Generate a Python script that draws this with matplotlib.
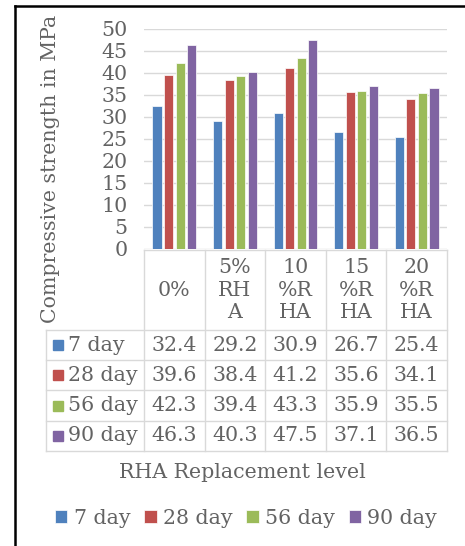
import matplotlib.pyplot as plt
import numpy as np

plt.rcParams['font.family'] = ['DejaVu Serif']

# Données
categories = ["0%", "5%\nRH\nA", "10\n%R\nHA", "15\n%R\nHA", "20\n%R\nHA"]
series = ["7 day", "28 day", "56 day", "90 day"]
day7 = [32.4, 29.2, 30.9, 26.7, 25.4]
day28 = [39.6, 38.4, 41.2, 35.6, 34.1]
day56 = [42.3, 39.4, 43.3, 35.9, 35.5]
day90 = [46.3, 40.3, 47.5, 37.1, 36.5]
yticks = [0, 5, 10, 15, 20, 25, 30, 35, 40, 45, 50]

values = [day7, day28, day56, day90]
colors = ['#4F81BD', '#C0504D', '#9BBB59', '#8064A2']
txt = '#636363'
grid = '#D9D9D9'
fs = 14.8

W, H = 465, 546
fig = plt.figure(figsize=(W / 100, H / 100), dpi=100)

# zone du graphique (en pixels)
x0, x1 = 144, 447
ytop, ybot = 29, 249
ax = fig.add_axes([x0 / W, 1 - ybot / H, (x1 - x0) / W, (ybot - ytop) / H])
n = len(categories)
x = np.arange(n)
pitch, width = 0.19, 0.15
bars = []
for j, (vals, c) in enumerate(zip(values, colors)):
    b = ax.bar(x + (j - 1.5) * pitch, vals, width, color=c, edgecolor='white',
               linewidth=0.5, zorder=3, label=series[j])
    bars.append(b)
ax.set_xlim(-0.5, n - 0.5)
ax.set_ylim(0, 50)
ax.set_yticks(yticks)
ax.set_yticklabels([str(t) for t in yticks], fontsize=fs, color=txt)
ax.tick_params(axis='y', length=0, pad=12)
ax.set_xticks([])
ax.yaxis.grid(True, color=grid, linewidth=1.0, zorder=0)
for s in ax.spines.values():
    s.set_visible(False)
ax.patch.set_alpha(0)

# calque pour le tableau
ov = fig.add_axes([0, 0, 1, 1], zorder=5)
ov.set_xlim(0, W)
ov.set_ylim(H, 0)
ov.axis('off')
ov.patch.set_alpha(0)

colx = np.linspace(x0, x1, n + 1)
lab_x = 46
hdr_top, hdr_bot = 250, 330
row_h = 30.2
rows_y = [hdr_bot + i * row_h for i in range(len(series) + 1)]

# lignes du tableau
ov.plot([x0, x1], [hdr_top, hdr_top], color=grid, lw=1)
for yy in rows_y:
    ov.plot([lab_x, x1], [yy, yy], color=grid, lw=1)
for i, xx in enumerate(colx):
    ov.plot([xx, xx], [hdr_top, rows_y[-1]], color=grid, lw=1)
ov.plot([lab_x, lab_x], [hdr_bot, rows_y[-1]], color=grid, lw=1)

# en-têtes
for i, cat in enumerate(categories):
    cx = (colx[i] + colx[i + 1]) / 2
    ov.text(cx, (hdr_top + hdr_bot) / 2, cat, ha='center', va='center',
            fontsize=fs, color=txt, linespacing=1.25)

# lignes de données
for r, (name, vals, c) in enumerate(zip(series, values, colors)):
    cy = (rows_y[r] + rows_y[r + 1]) / 2
    ov.add_patch(plt.Rectangle((53, cy - 5), 10, 10, color=c))
    ov.text(68, cy, name, ha='left', va='center', fontsize=fs, color=txt)
    for i, v in enumerate(vals):
        cx = (colx[i] + colx[i + 1]) / 2
        ov.text(cx, cy, f"{v:.1f}", ha='center', va='center', fontsize=fs, color=txt)

# titres
ov.text(242, 472, "RHA Replacement level", ha='center', va='center',
        fontsize=fs, color=txt)
ov.text(50, 169, "Compressive strength in MPa", ha='center', va='center',
        rotation=90, fontsize=fs, color=txt)

# légende
fig.legend(handles=[b[0] for b in bars], labels=series, loc='center',
           bbox_to_anchor=(246 / W, 1 - 518 / H), ncol=4, frameon=False,
           fontsize=fs, labelcolor=txt, handlelength=0.6, handleheight=0.6,
           handletextpad=0.3, columnspacing=0.68, borderpad=0)

# cadre noir
ov.plot([15, 15], [6, H], color='black', lw=1.8)
ov.plot([15, W], [6, 6], color='black', lw=1.8)

plt.savefig("out.png", dpi=100)
